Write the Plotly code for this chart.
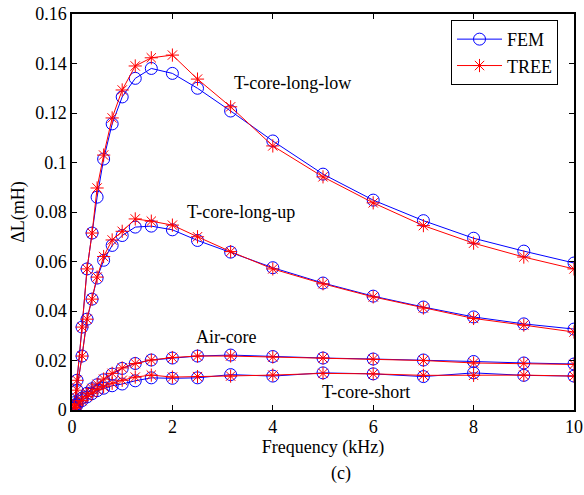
"""
Delta-L vs frequency: FEM vs TREE for four core configurations.
"""
import plotly.graph_objects as go

freq = [0.05, 0.1, 0.2, 0.3, 0.4, 0.5, 0.63, 0.8, 1.0, 1.26, 1.58, 2.0, 2.5, 3.16, 4, 5, 6, 7, 8, 9, 10]

long_low_fem = [0.003, 0.012, 0.0335, 0.057, 0.0715, 0.086, 0.1014, 0.1156, 0.1265, 0.134, 0.138, 0.136,
                0.130, 0.1208, 0.1087, 0.0953, 0.0848, 0.0765, 0.0694, 0.0642, 0.0594]
long_low_tree = [0.003, 0.012, 0.0335, 0.057, 0.0715, 0.0897, 0.103, 0.118, 0.1293, 0.139, 0.1423, 0.1434,
                 0.1337, 0.1225, 0.1067, 0.0942, 0.0837, 0.0745, 0.0674, 0.0618, 0.0570]

long_up_fem = [0.002, 0.008, 0.0218, 0.0367, 0.0448, 0.0533, 0.0605, 0.0665, 0.0705, 0.0739, 0.0743, 0.0728,
               0.0685, 0.0638, 0.0575, 0.0513, 0.046, 0.0416, 0.0376, 0.0348, 0.0327]
long_up_tree = [0.002, 0.008, 0.0218, 0.0367, 0.0448, 0.0537, 0.062, 0.0687, 0.0722, 0.0772, 0.0763, 0.0747,
                0.0700, 0.0640, 0.0570, 0.0510, 0.0457, 0.0412, 0.0370, 0.0343, 0.0315]

air_fem = [0.001, 0.0025, 0.0048, 0.0068, 0.0086, 0.0102, 0.0122, 0.0145, 0.0168, 0.0188, 0.0202, 0.021,
           0.0218, 0.0222, 0.0216, 0.021, 0.0206, 0.0202, 0.0196, 0.019, 0.0186]
air_tree = [0.001, 0.0025, 0.0048, 0.0068, 0.0087, 0.0104, 0.0125, 0.0148, 0.017, 0.0188, 0.0202, 0.0212,
            0.0218, 0.0218, 0.0214, 0.021, 0.0205, 0.0200, 0.019, 0.0188, 0.0184]

short_fem = [0.0008, 0.002, 0.0038, 0.0053, 0.0066, 0.0078, 0.0088, 0.0098, 0.0105, 0.0118, 0.013, 0.0128,
             0.013, 0.0143, 0.0137, 0.015, 0.0146, 0.0135, 0.015, 0.014, 0.0137]
short_tree = [0.0008, 0.002, 0.0038, 0.0055, 0.0068, 0.0082, 0.0094, 0.0108, 0.012, 0.0133, 0.0141, 0.0133,
              0.0135, 0.0137, 0.0141, 0.0148, 0.0146, 0.014, 0.014, 0.0141, 0.0137]

labels = ["T-core-long-low", "T-core-long-up", "Air-core", "T-core-short"]
label_x = [4.4, 3.36, 3.08, 5.86]
label_y = [0.132, 0.080, 0.0295, 0.0073]

FONT = "Liberation Serif, Times New Roman, serif"
FS = 18
BLUE = "#0000FF"
RED = "#FF0000"

fig = go.Figure()

fem_sets = [long_low_fem, long_up_fem, air_fem, short_fem]
tree_sets = [long_low_tree, long_up_tree, air_tree, short_tree]

for i, (fem, tree) in enumerate(zip(fem_sets, tree_sets)):
    fig.add_trace(go.Scatter(
        x=freq, y=fem, mode="lines+markers", name="FEM", showlegend=(i == 0),
        legendgroup="fem",
        line=dict(color=BLUE, width=1),
        marker=dict(symbol="circle-open", size=12, color=BLUE, line=dict(width=1))
    ))
    fig.add_trace(go.Scatter(
        x=freq, y=tree, mode="lines+markers", name="TREE", showlegend=(i == 0),
        legendgroup="tree",
        line=dict(color=RED, width=1),
        marker=dict(symbol="asterisk-open", size=11, color=RED, line=dict(width=1, color=RED))
    ))

for txt, lx, ly in zip(labels, label_x, label_y):
    fig.add_annotation(x=lx, y=ly, text=txt, showarrow=False,
                       font=dict(family=FONT, size=FS, color="black"))

fig.add_annotation(x=0.536, y=-0.16, xref="paper", yref="paper", text="(c)", showarrow=False,
                   xanchor="center", yanchor="middle",
                   font=dict(family=FONT, size=FS, color="black"))

axis_common = dict(
    showline=True, linecolor="black", linewidth=1.5, mirror="ticks", automargin=False,
    ticks="inside", ticklen=5, tickcolor="black", showgrid=False, zeroline=False,
    ticklabeloverflow="allow",
    tickfont=dict(family=FONT, size=FS, color="black"),
)

fig.update_layout(
    width=584, height=495,
    paper_bgcolor="white", plot_bgcolor="white",
    font=dict(family=FONT, color="black", size=FS),
    margin=dict(l=72, r=10, t=14, b=85),
    xaxis=dict(range=[0, 10], dtick=2, title=dict(text="Frequency (kHz)", standoff=4,
               font=dict(family=FONT, size=FS)), **axis_common),
    yaxis=dict(range=[0, 0.16], dtick=0.02, title=dict(text="ΔL(mH)", standoff=6,
               font=dict(family=FONT, size=FS)), **axis_common),
    legend=dict(x=0.755, y=0.985, xanchor="left", yanchor="top",
                bordercolor="black", borderwidth=1, bgcolor="white", itemwidth=45,
                font=dict(family=FONT, size=FS), tracegroupgap=0),
)

# drop the default 8px page margin so the figure fills the window
fig.write_html("out.html", config={"displayModeBar": False},
               post_script="document.body.style.margin='0px';")
